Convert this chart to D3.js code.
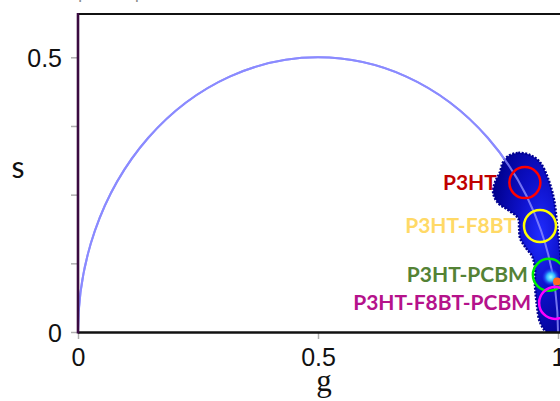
<!DOCTYPE html>
<html>
<head>
<meta charset="utf-8">
<script src="https://cdn.jsdelivr.net/npm/d3@7"></script>
<style>
  html, body { margin: 0; padding: 0; background: #fff; }
  svg { display: block; }
</style>
</head>
<body>
<div id="chart"></div>
<script>
// axis ticks
var xTicks = [0, 0.5, 1];
var xTickLabels = ["0", "0.5", "1"];
var yTicks = [0, 0.125, 0.25, 0.375, 0.5];
var yTickLabels = ["0", "", "", "", "0.5"];

// phasor cloud outline (g, s)
var cloudG = [0.896, 0.917, 0.942, 0.9625, 0.979, 0.992, 0.998, 1.004, 1.008, 0.977, 0.9625, 0.956, 0.952, 0.952, 0.946, 0.933, 0.921, 0.919, 0.917, 0.896, 0.875, 0.865, 0.869, 0.879, 0.885];
var cloudS = [0.320, 0.326, 0.322, 0.309, 0.280, 0.240, 0.195, 0.149, 0.000, 0.000, 0.018, 0.049, 0.086, 0.116, 0.138, 0.153, 0.171, 0.189, 0.207, 0.222, 0.235, 0.253, 0.273, 0.291, 0.308];

// bright spots inside the cloud
var hotG = [0.985, 0.998];
var hotS = [0.100, 0.092];

// samples marked with circles
var samples = ["P3HT", "P3HT-F8BT", "P3HT-PCBM", "P3HT-F8BT-PCBM"];
var sampleG = [0.931, 0.9625, 0.981, 0.994];
var sampleS = [0.272, 0.193, 0.104, 0.053];

var WIDTH = 560, HEIGHT = 401;
var PL = 78, PR = 558, PT = 14, PB = 332;

var svg = d3.select("#chart").append("svg")
    .attr("width", WIDTH)
    .attr("height", HEIGHT);

var x = d3.scaleLinear().domain([0, 1]).range([PL, PR]);
var y = d3.scaleLinear().domain([0, 0.5]).range([PB, 57.3]);

var defs = svg.append("defs");
var grad = defs.append("radialGradient").attr("id", "cloudFill")
    .attr("cx", "65%").attr("cy", "45%").attr("r", "70%");
grad.append("stop").attr("offset", "0%").attr("stop-color", "#1f2cff");
grad.append("stop").attr("offset", "45%").attr("stop-color", "#0d10c8");
grad.append("stop").attr("offset", "100%").attr("stop-color", "#00008a");

var hot = defs.append("radialGradient").attr("id", "hotFill");
hot.append("stop").attr("offset", "0%").attr("stop-color", "#a8ffff");
hot.append("stop").attr("offset", "45%").attr("stop-color", "#2fb8ff");
hot.append("stop").attr("offset", "100%").attr("stop-color", "#1f2cff").attr("stop-opacity", 0);

defs.append("clipPath").attr("id", "plotClip")
    .append("rect").attr("x", PL).attr("y", PT).attr("width", WIDTH - PL).attr("height", PB - PT + 1);

// cut-off text at the very top
svg.append("text")
    .attr("x", 14).attr("y", -1)
    .style("font-family", "Liberation Sans, Arial, sans-serif")
    .style("font-size", "17px")
    .style("fill", "#8a8a8a")
    .text("Lifetime phasor plot");

var plot = svg.append("g").attr("clip-path", "url(#plotClip)");

// universal semicircle
var rx = x(0.5) - x(0), ry = y(0) - y(0.5);
var arcD = "M" + x(0) + "," + y(0) + " A" + rx + "," + ry + " 0 0 1 " + x(1) + "," + y(0);
plot.append("path")
    .attr("d", arcD)
    .attr("fill", "none")
    .attr("stroke", "#7b7bff")
    .attr("stroke-width", 2);

// cloud
var cloudPts = cloudG.map(function (g, i) { return [x(g), y(cloudS[i])]; });
var line = d3.line().curve(d3.curveCatmullRomClosed.alpha(0.5));
plot.append("path")
    .attr("d", line(cloudPts))
    .attr("fill", "url(#cloudFill)")
    .attr("stroke", "#000090")
    .attr("stroke-width", 2.5)
    .attr("stroke-dasharray", "2,1.5");

// semicircle again, visible through the cloud
plot.append("path")
    .attr("d", arcD)
    .attr("fill", "none")
    .attr("stroke", "#8f8fff")
    .attr("stroke-opacity", 0.8)
    .attr("stroke-width", 2);

plot.selectAll("circle.hot")
    .data(hotG).enter()
    .append("circle")
    .attr("class", "hot")
    .attr("cx", function (d) { return x(d); })
    .attr("cy", function (d, i) { return y(hotS[i]); })
    .attr("r", function (d, i) { return i === 0 ? 9 : 4; })
    .attr("fill", function (d, i) { return i === 0 ? "url(#hotFill)" : "#ff6a20"; });

// sample circles
var ringColors = ["#ff0000", "#ffff00", "#00ee00", "#ff00ff"];
var labelColors = ["#c00000", "#ffd966", "#548235", "#b5128b"];
var ringR = [15.5, 16, 16, 16];

plot.selectAll("circle.ring")
    .data(samples).enter()
    .append("circle")
    .attr("class", "ring")
    .attr("cx", function (d, i) { return x(sampleG[i]); })
    .attr("cy", function (d, i) { return y(sampleS[i]); })
    .attr("r", function (d, i) { return ringR[i]; })
    .attr("fill", "none")
    .attr("stroke", function (d, i) { return ringColors[i]; })
    .attr("stroke-width", 2.5);

svg.selectAll("text.sample")
    .data(samples).enter()
    .append("text")
    .attr("class", "sample")
    .attr("x", function (d, i) { return x(sampleG[i]) - [28, 24, 21, 24][i]; })
    .attr("y", function (d, i) { return y(sampleS[i]) + 7; })
    .attr("text-anchor", "end")
    .style("font-family", "Lato, 'Open Sans', sans-serif")
    .style("font-weight", "bold")
    .style("font-size", "21px")
    .style("fill", function (d, i) { return labelColors[i]; })
    .text(function (d) { return d; });

// axes
var yAxis = svg.append("g")
    .attr("transform", "translate(" + PL + ",0)")
    .call(d3.axisLeft(y).tickValues(yTicks).tickSize(7).tickFormat(function (d, i) { return yTickLabels[i]; }));
var xAxis = svg.append("g")
    .attr("transform", "translate(0," + PB + ")")
    .call(d3.axisBottom(x).tickValues(xTicks).tickSize(7).tickFormat(function (d, i) { return xTickLabels[i]; }));

[xAxis, yAxis].forEach(function (ax) {
    ax.select(".domain").remove();
    ax.selectAll(".tick line").attr("stroke", "#b0b0b0").attr("stroke-width", 1.5);
    ax.selectAll(".tick text")
        .style("font-family", "Liberation Sans, Arial, sans-serif")
        .style("font-size", "25px")
        .style("fill", "#111");
});
yAxis.selectAll(".tick text").attr("x", -16).attr("dy", "0.36em");
xAxis.selectAll(".tick text").attr("y", 16).attr("dy", "0.72em");

// frame
svg.append("line").attr("x1", PL).attr("x2", WIDTH).attr("y1", PT).attr("y2", PT)
    .attr("stroke", "#111").attr("stroke-width", 1.8);
svg.append("line").attr("x1", PL).attr("x2", WIDTH).attr("y1", PB + 0.5).attr("y2", PB + 0.5)
    .attr("stroke", "#111").attr("stroke-width", 2.6);
svg.append("line").attr("x1", PL).attr("x2", PL).attr("y1", PT - 1).attr("y2", PB + 1.5)
    .attr("stroke", "#3a0a40").attr("stroke-width", 2.6);

// axis titles
svg.append("text")
    .attr("x", x(0.5) + 6).attr("y", 391)
    .attr("text-anchor", "middle")
    .style("font-family", "'Liberation Serif', 'DejaVu Serif', serif")
    .style("font-size", "31px")
    .style("fill", "#111")
    .text("g");
svg.append("text")
    .attr("x", 18).attr("y", 178)
    .attr("text-anchor", "middle")
    .style("font-family", "Lato, sans-serif")
    .style("font-size", "30px")
    .style("fill", "#111")
    .text("s");
</script>
</body>
</html>
